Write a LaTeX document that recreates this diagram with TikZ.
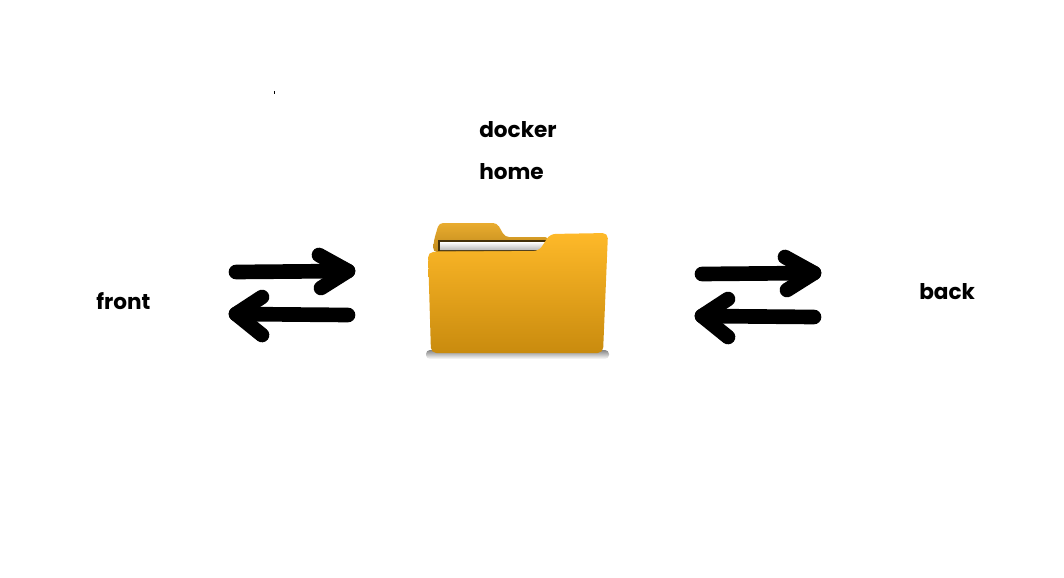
\documentclass[tikz,border=0pt]{standalone}
\usepackage{fontspec}
\setmainfont{Poppins}
\usetikzlibrary{arrows, positioning}

\definecolor{foldertop}{HTML}{FEB929}
\definecolor{folderbot}{HTML}{C98B0E}
\definecolor{tabtop}{HTML}{E9AC2F}
\definecolor{tabbot}{HTML}{C08A1C}

\tikzset{
  label/.style={font=\fontsize{16.2}{20}\selectfont\bfseries, inner sep=0pt, anchor=west},
  thick arrow/.style={line width=11pt, line cap=round, line join=round, black}
}

\begin{document}
\begin{tikzpicture}[x=0.75pt,y=-0.75pt]

   \useasboundingbox (0,0) rectangle (1064,578);

   % labels
   \node[label] (docker) at (479,130) {docker};
   \node[label] (home)   at (479,172) {home};
   \node[label] (front)  at (96,301)  {front};
   \node[label] (back)   at (919,292) {back};

   % stray dot
   \fill[black] (274,90.5) rectangle (275,93.5);

   % folder
   \shade[top color=gray!95, bottom color=white, draw=none, rounded corners=3pt]
      (426,350) rectangle (609,359);
   \shade[top color=tabtop, bottom color=tabbot, rounded corners=3pt]
      (433,252) -- (434,240) -- (439,223) -- (497,223) -- (505,237) -- (549,237) -- (542,252) -- cycle;
   \fill[black!65!tabbot] (438,240) rectangle (546,251);
   \shade[top color=white, bottom color=gray!55]
      (440,242) -- (547,242) -- (540,250) -- (440,250) -- cycle;
   \shade[top color=foldertop, bottom color=folderbot, rounded corners=4pt]
      (428,252) -- (539,251) -- (550,234) -- (608,233) -- (603,353) -- (431,353) -- cycle;

   % arrows on the left
   \coordinate (la) at (236,272);
   \coordinate (lb) at (348,271);
   \coordinate (lc) at (348,315);
   \coordinate (ld) at (236,314);
   \draw[thick arrow] (la) -- (lb);
   \draw[thick arrow] (319,255) -- (lb) -- (321,288);
   \draw[thick arrow] (lc) -- (ld);
   \draw[thick arrow] (262,297) -- (ld) -- (262,335);

   % arrows on the right
   \coordinate (ra) at (702,274);
   \coordinate (rb) at (814,273);
   \coordinate (rc) at (814,317);
   \coordinate (rd) at (702,316);
   \draw[thick arrow] (ra) -- (rb);
   \draw[thick arrow] (785,257) -- (rb) -- (787,290);
   \draw[thick arrow] (rc) -- (rd);
   \draw[thick arrow] (728,299) -- (rd) -- (728,337);

\end{tikzpicture}
\end{document}
